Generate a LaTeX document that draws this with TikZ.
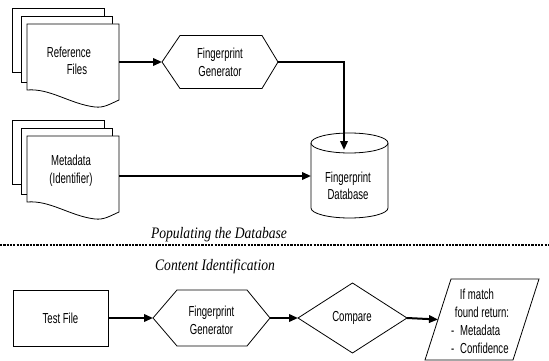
\documentclass[tikz,border=0pt]{standalone}
\usepackage{fontspec}
\setmainfont{Liberation Sans}[FakeStretch=0.66]
\newfontfamily\capfont{Liberation Serif}[FakeStretch=0.85]
\usetikzlibrary{arrows.meta}

\begin{document}
\begin{tikzpicture}[x=1pt,y=-1pt,
  every node/.style={inner sep=0pt, outer sep=0pt, align=center,
    font=\fontsize{14.5}{17.5}\selectfont},
  outline/.style={draw=black, line width=0.8pt, fill=white, line join=miter},
  flow/.style={line width=2pt, -{Triangle[length=9pt,width=7.5pt]}},
  caption/.style={anchor=base, font=\capfont\itshape\fontsize{16}{18}\selectfont},
  separator/.style={line width=1.4pt, dash pattern=on 2.2pt off 1.1pt}
]
\fill[white] (0,0) rectangle (549,361);
\useasboundingbox (0,0) rectangle (549,361);

% ---------- Populating the database ----------
% stack of reference files
\draw[outline] (12,8) rectangle (104,72);
\draw[outline] (21,16) rectangle (112,82);
\draw[outline] (27,24) -- (119,24) -- (119,100)
  .. controls (110,104) and (104,108) .. (95,107)
  .. controls (70,104) and (50,88) .. (27,90) -- cycle;
\node[minimum width=92pt, minimum height=76pt] (ref) at (73,62) {};
\node (reftext) at (69,61) {Reference\\\hspace*{16pt}Files};

% stack of metadata sheets
\draw[outline] (12,120) rectangle (104,184);
\draw[outline] (21,128) rectangle (112,194);
\draw[outline] (27,136) -- (119,136) -- (119,212)
  .. controls (110,216) and (104,220) .. (95,219)
  .. controls (70,216) and (50,200) .. (27,202) -- cycle;
\node[minimum width=92pt, minimum height=76pt] (meta) at (73,176) {};
\node (metatext) at (71,170.5) {Metadata\\(Identifier)};

% fingerprint generator (upper)
\node[minimum width=116pt, minimum height=53pt] (gen1) at (220,62) {};
\draw[outline] (gen1.west) -- ([xshift=18pt]gen1.north west)
  -- ([xshift=-16pt]gen1.north east) -- (gen1.east)
  -- ([xshift=-16pt]gen1.south east) -- ([xshift=18pt]gen1.south west) -- cycle;
\node (gen1text) at (220,62.5) {Fingerprint\\Generator};

% fingerprint database cylinder
\node[minimum width=77pt, minimum height=85pt] (db) at (349.5,176) {};
\draw[outline] (311,143) -- (311,208)
  .. controls (311,213.5) and (328.2,218) .. (349.5,218)
  .. controls (370.8,218) and (388,213.5) .. (388,208) -- (388,143);
\draw[outline] (349.5,143) ellipse [x radius=38.5, y radius=10];
\node (dbtext) at (348,186) {Fingerprint\\Database};
\coordinate (dbtop) at (344,150);

\draw[flow] (ref.east) -- (gen1.west);
\draw[flow] (gen1.east) -| (dbtop);
\draw[flow] (meta.east) -- (db.west);

% ---------- separator ----------
\node[caption] (popcap) at (219,238) {Populating the Database};
\coordinate (sepL) at (0,245);
\coordinate (sepR) at (549,245);
\draw[separator] (sepL) -- (sepR);
\node[caption] (idcap) at (215,270) {Content Identification};

% ---------- Content identification ----------
\node[draw, line width=0.8pt, minimum width=95pt, minimum height=56pt] (test) at (60.5,318) {Test File};

\node[minimum width=117pt, minimum height=56pt] (gen2) at (211.5,318) {};
\draw[outline] (gen2.west) -- ([xshift=24pt]gen2.north west)
  -- ([xshift=-23pt]gen2.north east) -- (gen2.east)
  -- ([xshift=-23pt]gen2.south east) -- ([xshift=24pt]gen2.south west) -- cycle;
\node (gen2text) at (211.5,320.5) {Fingerprint\\Generator};

\node[minimum width=109pt, minimum height=70pt] (cmp) at (352.5,318) {};
\draw[outline] (cmp.west) -- (cmp.north) -- (cmp.east) -- (cmp.south) -- cycle;
\node (cmptext) at (352,318) {Compare};

\node[minimum width=88pt, minimum height=81pt] (out) at (482,319.5) {};
\draw[outline] ([xshift=13pt]out.north west) -- ([xshift=13pt]out.north east)
  -- ([xshift=-13pt]out.south east) -- ([xshift=-13pt]out.south west) -- cycle;
\node (r1) at (477,294) {If match};
\node (r2) at (482,312) {found return:};
\node[anchor=west] (r3) at (451,330) {-\hspace{6pt}Metadata};
\node[anchor=west] (r4) at (451,348) {-\hspace{6pt}Confidence};

\draw[flow] (test.east) -- (gen2.west);
\draw[flow] (gen2.east) -- (cmp.west);
\draw[flow] (cmp.east) -- (out.west);
\end{tikzpicture}
\end{document}
